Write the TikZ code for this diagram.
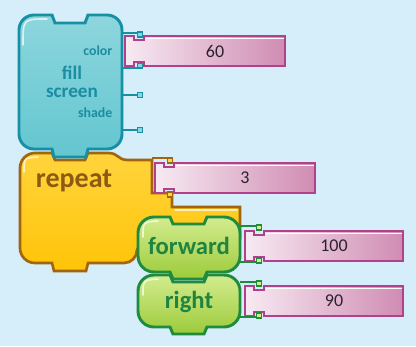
\documentclass[tikz,border=0pt]{standalone}
\usepackage{fontspec}
\setmainfont{Carlito}
\definecolor{bgblue}{HTML}{D5EEFA}
\definecolor{tealD}{HTML}{1790A5}
\definecolor{tealM}{HTML}{62C6D0}
\definecolor{tealL}{HTML}{8ED6DD}
\definecolor{tealT}{HTML}{1A8DA2}
\definecolor{orangeD}{HTML}{A2650D}
\definecolor{orangeM}{HTML}{FFC408}
\definecolor{orangeL}{HTML}{FFD43C}
\definecolor{orangeT}{HTML}{8C5A12}
\definecolor{greenD}{HTML}{1F8B3F}
\definecolor{greenM}{HTML}{9CCB3A}
\definecolor{greenL}{HTML}{D3EC8F}
\definecolor{greenT}{HTML}{1F8440}
\definecolor{pinkD}{HTML}{B2408A}
\definecolor{pinkL}{HTML}{F7EAF2}
\definecolor{pinkR}{HTML}{D08CB3}
\definecolor{numT}{HTML}{2B2230}
\tikzset{
  tealblock/.style={draw=tealD, line width=2.2pt, top color=tealL, bottom color=tealM},
  orangeblock/.style={draw=orangeD, line width=2pt, top color=orangeL, bottom color=orangeM},
  greenblock/.style={draw=greenD, line width=2.2pt, top color=greenL, bottom color=greenM},
  valuebox/.style={draw=pinkD, line width=1.2pt, left color=pinkL, right color=pinkR},
  tealhook/.style={draw=tealD, line width=1.1pt},
  orangehook/.style={draw=orangeD, line width=1.1pt},
  greenhook/.style={draw=greenD, line width=1.1pt},
  gloss/.style={white, opacity=0.7, line width=1.2pt, line cap=round},
  tealtext/.style={text=tealT, font=\bfseries\fontsize{14.4}{13.5}\selectfont, align=center},
  taglabel/.style={text=tealT, font=\bfseries\fontsize{10.4}{12}\selectfont},
  blocklabel/.style={font=\bfseries\fontsize{18.5}{20}\selectfont},
  numtext/.style={text=numT, font=\fontsize{13.5}{15}\selectfont}
}
\begin{document}
\begin{tikzpicture}[x=0.75pt, y=-0.75pt]
  % Background
  \useasboundingbox (0,0) rectangle (416,346);
  \fill[bgblue] (0,0) rectangle (416,346);

  % repeat block
  \draw[orangeblock] (20,168) arc[start angle=180, end angle=270, radius=15] -- (52,153)
    -- (55,160) -- (85,160) -- (88,153) -- (108,153)
    .. controls (119,153) and (117,160) .. (128,160)
    -- (152,160) -- (152,193) -- (172,193) -- (172,207) -- (240,207) -- (240,238)
    -- (200,240) -- (150,245) -- (138,248) -- (137,250)
    arc[start angle=0, end angle=90, radius=13]
    -- (88,263) -- (86,271) -- (54,271) -- (52,263) -- (35,263)
    arc[start angle=90, end angle=180, radius=15] -- cycle;
  \draw[gloss] (175,210) -- (237,210);
  \draw[gloss] (24,172) .. controls (24,158) .. (38,157);
  \draw[orangehook] (152,158) -- (170,158);
  \draw[orangehook, fill=orangeL] (167.5,158) rectangle (172.5,163);
  \draw[orangehook, fill=orangeL] (167.5,192) rectangle (172.5,197);
  \node[blocklabel, text=orangeT, font=\bfseries\fontsize{21}{22}\selectfont] (repeatlbl) at (74,181) {repeat};

  % fill screen block
  \draw[tealblock] (19,30) arc[start angle=180, end angle=270, radius=15] -- (52,15)
    -- (55,23) -- (85,23) -- (88,15) -- (107,15)
    arc[start angle=270, end angle=360, radius=15] -- (122,134)
    arc[start angle=0, end angle=90, radius=15]
    -- (88,149) -- (86,157) -- (54,157) -- (52,149) -- (34,149)
    arc[start angle=90, end angle=180, radius=15] -- cycle;
  \draw[gloss] (23,45) .. controls (23,19) .. (47,19);
  \node[tealtext] (fillscreen) at (72,82) {fill\\screen};
  \node[taglabel, anchor=east] (colorlbl) at (117,51) {color};
  \node[taglabel, anchor=east] (shadelbl) at (117,113) {shade};
  \foreach \hy/\sy in {33/32, 68/63, 95/92.5, 130/127.5} {
    \draw[tealhook] (122,\hy) -- (140,\hy);
    \draw[tealhook, fill=tealL] (137.5,\sy) rectangle (142.5,\sy+5);
  }

  % Value inputs
  \foreach \vx/\vy/\vw/\val/\nm in {125/36/160/60/sixty, 155/163/160/3/three,
                                     245/231/158/100/hundred, 245/286/158/90/ninety} {
    \draw[valuebox] (\vx,\vy) -- (\vx+9,\vy) -- (\vx+9,\vy+4) -- (\vx+19,\vy+4) -- (\vx+19,\vy)
      -- (\vx+\vw,\vy) -- (\vx+\vw,\vy+30) -- (\vx+19,\vy+30) -- (\vx+19,\vy+26)
      -- (\vx+9,\vy+26) -- (\vx+9,\vy+30) -- (\vx,\vy+30) -- cycle;
    \draw[white, line width=1pt] (\vx+21,\vy+2.2) -- (\vx+\vw-1.5,\vy+2.2);
    \node[numtext] (val-\nm) at ({\vx+20+(\vw-20)/2},\vy+15) {\val};
  }

  % forward and right blocks
  \foreach \by/\bh/\txt/\nm in {275/52/right/rgt, 217/55/forward/fwd} {
    \draw[greenblock] (138,\by+16) arc[start angle=180, end angle=270, radius=16]
      -- (170,\by) -- (173,\by+7) -- (204,\by+7) -- (207,\by) -- (224,\by)
      arc[start angle=270, end angle=360, radius=16] -- (240,\by+\bh-16)
      arc[start angle=0, end angle=90, radius=16]
      -- (207,\by+\bh) -- (204,\by+\bh+7) -- (173,\by+\bh+7) -- (170,\by+\bh) -- (154,\by+\bh)
      arc[start angle=90, end angle=180, radius=16] -- cycle;
    \draw[gloss] (143,\by+20) .. controls (143,\by+5) .. (158,\by+4);
    \node[blocklabel, text=greenT] (\nm lbl) at (189,{\by+\bh/2+1}) {\txt};
  }
  \foreach \hy/\sy in {226/225, 262/258, 282/281, 317/313} {
    \draw[greenhook] (240,\hy) -- (259,\hy);
    \draw[greenhook, fill=greenL] (256.5,\sy) rectangle (261.5,\sy+5);
  }
\end{tikzpicture}
\end{document}
